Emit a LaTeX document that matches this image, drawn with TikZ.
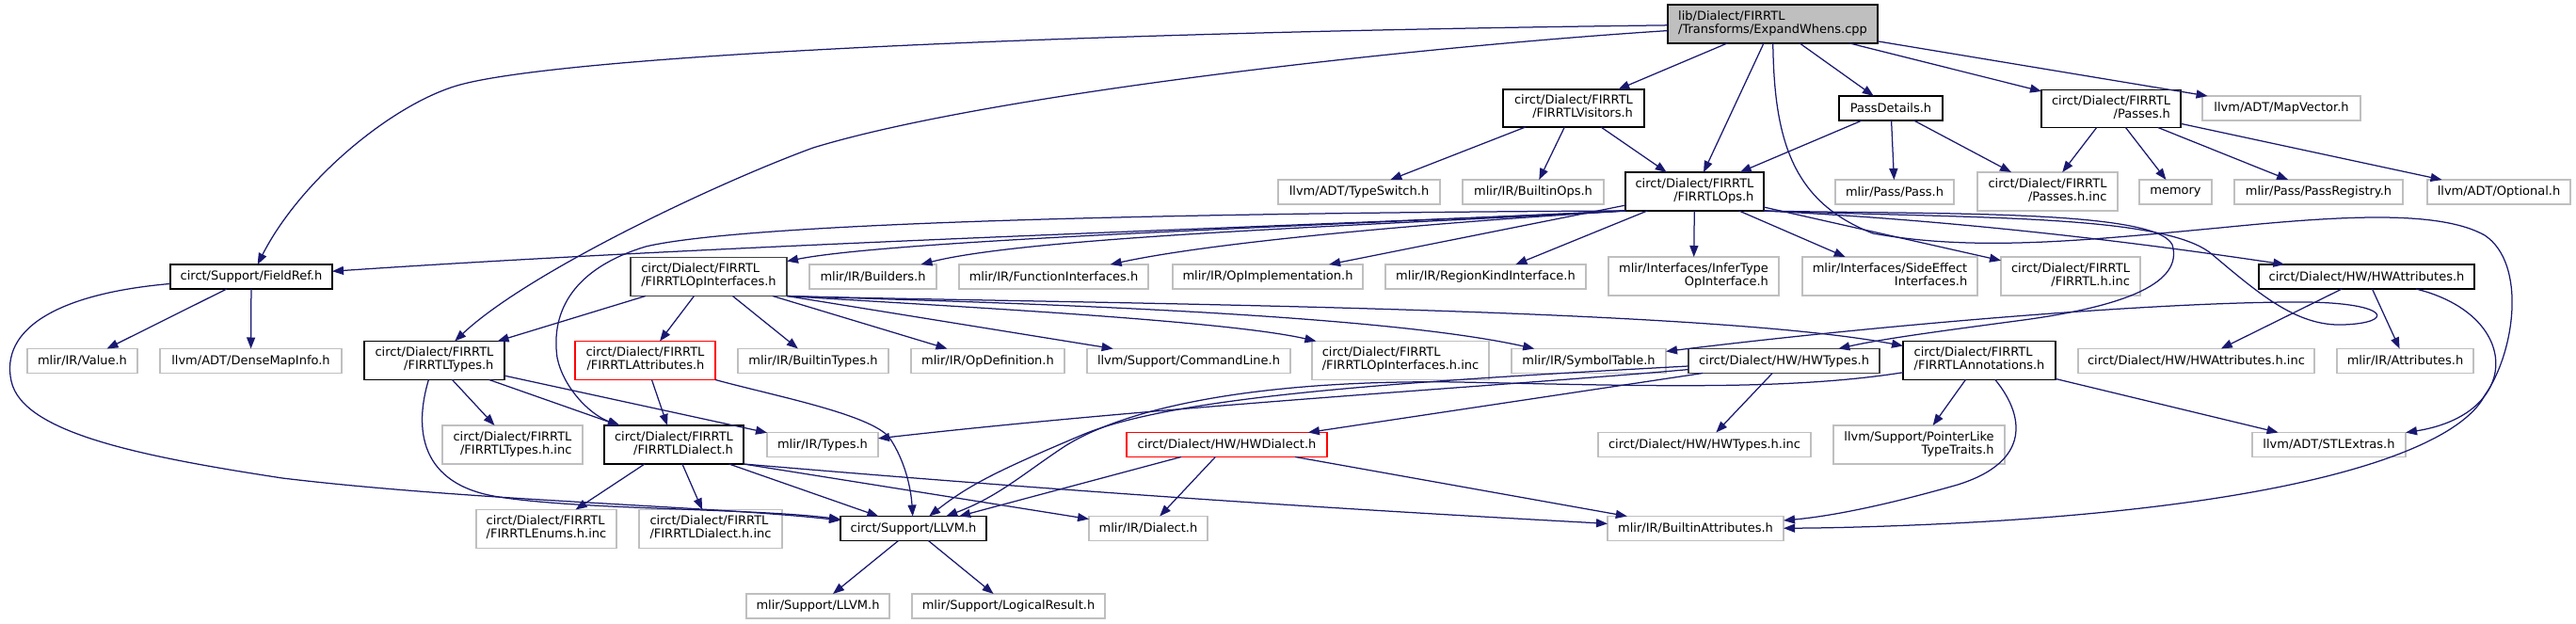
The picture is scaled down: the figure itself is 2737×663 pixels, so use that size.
\documentclass[tikz,border=0pt]{standalone}
\usepackage{fontspec}
\setmainfont{DejaVu Sans}
\usetikzlibrary{arrows.meta,calc}
\definecolor{edgecol}{HTML}{191970}
\definecolor{grayb}{HTML}{BFBFBF}
\definecolor{darkb}{HTML}{404040}
\newcommand\twol[2]{\begin{tabular}{@{}l@{}}#1\\\hfill#2\hfill\end{tabular}}
\begin{document}
\begin{tikzpicture}[x=1pt,y=-1pt,
  every node/.style={font=\fontsize{13}{14}\selectfont, inner sep=0pt, outer sep=0pt},
  nb/.style={draw=black, fill=white, line width=1.4pt},
  ng/.style={draw=grayb, fill=white, line width=1.4pt},
  nr/.style={draw=red, fill=white, line width=1.4pt},
  nk/.style={draw=darkb, fill=white, line width=1.6pt},
  sz/.style 2 args={minimum width=#1pt, minimum height=#2pt},
  ed/.style={draw=edgecol, line width=1.25pt, -{Triangle[length=12pt,width=9pt]}}]
\useasboundingbox (0,0) rectangle (2737,663);

% row 1
\node[nb, fill=grayb, sz={223}{41}] (root) at (1883.5,25.5) {\twol{lib/Dialect/FIRRTL}{/Transforms/ExpandWhens.cpp}};
% row 2
\node[nb, sz={150}{40}] (visitors) at (1672,115) {\twol{circt/Dialect/FIRRTL}{/FIRRTLVisitors.h}};
\node[nb, sz={110}{26}] (passdetails) at (2009,115) {PassDetails.h};
\node[nb, sz={148}{40}] (passes) at (2243,115.5) {\twol{circt/Dialect/FIRRTL}{/Passes.h}};
\node[ng, sz={168}{26}] (mapvector) at (2424,115) {llvm/ADT/MapVector.h};
% row 3
\node[ng, sz={172}{26}] (typeswitch) at (1444,204) {llvm/ADT/TypeSwitch.h};
\node[ng, sz={150}{26}] (builtinops) at (1629,204) {mlir/IR/BuiltinOps.h};
\node[nb, sz={147}{41}] (firrtlops) at (1800.5,203.5) {\twol{circt/Dialect/FIRRTL}{/FIRRTLOps.h}};
\node[ng, sz={126}{26}] (passh) at (2013,204) {mlir/Pass/Pass.h};
\node[ng, sz={149}{41}] (passesinc) at (2175.5,203.5) {\twol{circt/Dialect/FIRRTL}{/Passes.h.inc}};
\node[ng, sz={77}{26}] (memory) at (2311.5,204) {memory};
\node[ng, sz={179}{26}] (passregistry) at (2463.5,204) {mlir/Pass/PassRegistry.h};
\node[ng, sz={152}{26}] (optional) at (2655,204) {llvm/ADT/Optional.h};
% row 4
\node[nb, sz={172}{26}] (fieldref) at (267,294) {circt/Support/FieldRef.h};
\node[nk, sz={166}{41}] (opinterfaces) at (753,294) {\twol{circt/Dialect/FIRRTL}{/FIRRTLOpInterfaces.h}};
\node[ng, sz={135}{26}] (builders) at (927.5,294) {mlir/IR/Builders.h};
\node[ng, sz={201}{26}] (funcinterfaces) at (1119.5,294) {mlir/IR/FunctionInterfaces.h};
\node[ng, sz={202}{26}] (opimpl) at (1347,294) {mlir/IR/OpImplementation.h};
\node[ng, sz={213}{26}] (regionkind) at (1578.5,294) {mlir/IR/RegionKindInterface.h};
\node[ng, sz={181}{41}] (infertype) at (1799.5,293.5) {\twol{mlir/Interfaces/InferType}{OpInterface.h}};
\node[ng, sz={186}{41}] (sideeffect) at (2008,293.5) {\twol{mlir/Interfaces/SideEffect}{Interfaces.h}};
\node[ng, sz={148}{41}] (firrtlhinc) at (2200,293.5) {\twol{circt/Dialect/FIRRTL}{/FIRRTL.h.inc}};
\node[nb, sz={229}{26}] (hwattributes) at (2514.5,294) {circt/Dialect/HW/HWAttributes.h};
% row 5
\node[ng, sz={117}{26}] (valueh) at (87.5,383.5) {mlir/IR/Value.h};
\node[ng, sz={193}{26}] (densemapinfo) at (266.5,383.5) {llvm/ADT/DenseMapInfo.h};
\node[nb, sz={149}{41}] (firrtltypes) at (461.5,383) {\twol{circt/Dialect/FIRRTL}{/FIRRTLTypes.h}};
\node[nr, sz={149}{41}] (firrtlattributes) at (685.5,383) {\twol{circt/Dialect/FIRRTL}{/FIRRTLAttributes.h}};
\node[ng, sz={160}{26}] (builtintypes) at (864,383.5) {mlir/IR/BuiltinTypes.h};
\node[ng, sz={163}{26}] (opdefinition) at (1049.5,383.5) {mlir/IR/OpDefinition.h};
\node[ng, sz={216}{26}] (commandline) at (1263,383.5) {llvm/Support/CommandLine.h};
\node[ng, sz={188}{41}] (opinterfacesinc) at (1488,383) {\twol{circt/Dialect/FIRRTL}{/FIRRTLOpInterfaces.h.inc}};
\node[ng, sz={164}{26}] (symboltable) at (1688,383.5) {mlir/IR/SymbolTable.h};
\node[nk, sz={203}{26}] (hwtypes) at (1895.5,383.5) {circt/Dialect/HW/HWTypes.h};
\node[nb, sz={162}{41}] (annotations) at (2103,383) {\twol{circt/Dialect/FIRRTL}{/FIRRTLAnnotations.h}};
\node[ng, sz={251}{26}] (hwattributesinc) at (2333.5,383.5) {circt/Dialect/HW/HWAttributes.h.inc};
\node[ng, sz={145}{26}] (attributes) at (2555.5,383.5) {mlir/IR/Attributes.h};
% row 6
\node[ng, sz={149}{41}] (firrtltypesinc) at (544.5,472.5) {\twol{circt/Dialect/FIRRTL}{/FIRRTLTypes.h.inc}};
\node[nb, sz={148}{41}] (firrtldialect) at (716,472.5) {\twol{circt/Dialect/FIRRTL}{/FIRRTLDialect.h}};
\node[ng, sz={118}{26}] (typesh) at (874,472.5) {mlir/IR/Types.h};
\node[nr, sz={213}{26}] (hwdialect) at (1303.5,472.5) {circt/Dialect/HW/HWDialect.h};
\node[ng, sz={226}{26}] (hwtypesinc) at (1811,472.5) {circt/Dialect/HW/HWTypes.h.inc};
\node[ng, sz={182}{41}] (pointerlike) at (2039,472.5) {\twol{llvm/Support/PointerLike}{TypeTraits.h}};
\node[ng, sz={163}{26}] (stlextras) at (2474.5,472.5) {llvm/ADT/STLExtras.h};
% row 7
\node[ng, sz={149}{41}] (enumsinc) at (580.5,562) {\twol{circt/Dialect/FIRRTL}{/FIRRTLEnums.h.inc}};
\node[ng, sz={152}{41}] (dialectinc) at (755,562) {\twol{circt/Dialect/FIRRTL}{/FIRRTLDialect.h.inc}};
\node[nb, sz={155}{26}] (llvmh) at (970.5,561.5) {circt/Support/LLVM.h};
\node[ng, sz={126}{26}] (dialecth) at (1220,561.5) {mlir/IR/Dialect.h};
\node[ng, sz={187}{26}] (builtinattributes) at (1801.5,561.5) {mlir/IR/BuiltinAttributes.h};
% row 8
\node[ng, sz={152}{26}] (mlirllvm) at (869,644) {mlir/Support/LLVM.h};
\node[ng, sz={205}{26}] (logicalresult) at (1071.5,644) {mlir/Support/LogicalResult.h};

% ---------- edges ----------
% root
\draw[ed] (root) .. controls (1100,35) and (600,60) .. (489,90) .. controls (419,109) and (320,190) .. (fieldref);
\draw[ed] (root) .. controls (1500,50) and (1050,100) .. (864,157) .. controls (760,195) and (560,290) .. (firrtltypes);
\draw[ed] (root) -- (visitors);
\draw[ed] (root) -- (firrtlops);
\draw[ed] (root) -- (passdetails);
\draw[ed] (root) -- (passes);
\draw[ed] (root) -- (mapvector);
\draw[ed] (root) .. controls (1885,150) and (1905,215) .. (1990,248) .. controls (2100,268) and (2220,255) .. (2359,242) .. controls (2480,230) and (2590,222) .. (2640,250) .. controls (2685,280) and (2672,375) .. (2640,420) .. controls (2615,470) and (2480,530) .. (2128,553) .. controls (2050,558) and (1960,561) .. (builtinattributes);
% visitors
\draw[ed] (visitors) -- (typeswitch);
\draw[ed] (visitors) -- (builtinops);
\draw[ed] (visitors) -- (firrtlops);
% passdetails
\draw[ed] (passdetails) -- (firrtlops);
\draw[ed] (passdetails) -- (passh);
\draw[ed] (passdetails) -- (passesinc);
% passes
\draw[ed] (passes) -- (passesinc);
\draw[ed] (passes) -- (memory);
\draw[ed] (passes) -- (passregistry);
\draw[ed] (passes) -- (optional);
% firrtlops
\draw[ed] (firrtlops.south west) .. controls (1400,240) and (800,258) .. (fieldref);
\draw[ed] (firrtlops.south west) .. controls (1400,240) and (950,255) .. (opinterfaces);
\draw[ed] (firrtlops.south west) .. controls (1300,226) and (800,235) .. (686,262) .. controls (610,285) and (585,330) .. (592,380) .. controls (598,410) and (625,440) .. (firrtldialect);
\draw[ed] (firrtlops.south west) .. controls (1500,238) and (1100,250) .. (builders);
\draw[ed] (firrtlops.south west) .. controls (1550,235) and (1300,255) .. (funcinterfaces);
\draw[ed] (firrtlops) -- (opimpl);
\draw[ed] (firrtlops) -- (regionkind);
\draw[ed] (firrtlops) -- (infertype);
\draw[ed] (firrtlops) -- (sideeffect);
\draw[ed] (firrtlops) -- (firrtlhinc);
\draw[ed] (firrtlops.south east) .. controls (2100,235) and (2300,262) .. (hwattributes);
\draw[ed] (firrtlops.south east) .. controls (2050,228) and (2290,222) .. (2308,260) .. controls (2320,300) and (2260,325) .. (2150,340) .. controls (2060,352) and (2000,360) .. (hwtypes);
\draw[ed] (firrtlops.south east) .. controls (2100,232) and (2300,228) .. (2350,270) .. controls (2400,312) and (2440,347) .. (2490,345) .. controls (2545,343) and (2540,322) .. (2450,321) .. controls (2300,320) and (2000,345) .. (symboltable);
% opinterfaces
\draw[ed] (opinterfaces) -- (firrtltypes);
\draw[ed] (opinterfaces) -- (firrtlattributes);
\draw[ed] (opinterfaces) -- (builtintypes);
\draw[ed] (opinterfaces) -- (opdefinition);
\draw[ed] (opinterfaces.south east) -- (commandline);
\draw[ed] (opinterfaces.south east) .. controls (1000,325) and (1300,340) .. (opinterfacesinc);
\draw[ed] (opinterfaces.south east) .. controls (1000,320) and (1450,330) .. (symboltable);
\draw[ed] (opinterfaces.south east) .. controls (1100,322) and (1800,325) .. (annotations);
% firrtlattributes
\draw[ed] (firrtlattributes) -- (firrtldialect);
\draw[ed] (firrtlattributes) .. controls (820,420) and (925,440) .. (945,465) .. controls (962,490) and (968,520) .. (llvmh);
% firrtltypes
\draw[ed] (firrtltypes) -- (firrtltypesinc);
\draw[ed] (firrtltypes) -- (firrtldialect);
\draw[ed] (firrtltypes) -- (typesh);
\draw[ed] (firrtltypes) .. controls (440,455) and (445,515) .. (530,528) .. controls (620,542) and (800,540) .. (llvmh);
% fieldref
\draw[ed] (fieldref) -- (valueh);
\draw[ed] (fieldref) -- (densemapinfo);
\draw[ed] (fieldref) .. controls (60,312) and (0,350) .. (12,405) .. controls (24,460) and (150,485) .. (300,508) .. controls (500,532) and (760,538) .. (llvmh);
% firrtldialect
\draw[ed] (firrtldialect) -- (enumsinc);
\draw[ed] (firrtldialect) -- (dialectinc);
\draw[ed] (firrtldialect) -- (llvmh);
\draw[ed] (firrtldialect.south east) -- (dialecth);
\draw[ed] (firrtldialect.south east) .. controls (1200,528) and (1500,545) .. (builtinattributes);
% hwdialect
\draw[ed] (hwdialect) -- (llvmh);
\draw[ed] (hwdialect) -- (dialecth);
\draw[ed] (hwdialect) -- (builtinattributes);
% hwtypes
\draw[ed] (hwtypes) -- (hwtypesinc);
\draw[ed] (hwtypes) -- (hwdialect);
\draw[ed] (hwtypes) .. controls (1600,410) and (1250,430) .. (typesh);
\draw[ed] (hwtypes) .. controls (1500,405) and (1250,420) .. (1150,462) .. controls (1060,500) and (1030,515) .. (llvmh);
% annotations
\draw[ed] (annotations) -- (pointerlike);
\draw[ed] (annotations) .. controls (2150,440) and (2160,490) .. (2080,515) .. controls (2010,535) and (1950,548) .. (builtinattributes);
\draw[ed] (annotations) -- (stlextras);
\draw[ed] (annotations) .. controls (1900,415) and (1750,410) .. (1550,406) .. controls (1350,403) and (1200,430) .. (1130,475) .. controls (1085,505) and (1060,528) .. (llvmh);
% hwattributes
\draw[ed] (hwattributes) -- (hwattributesinc);
\draw[ed] (hwattributes) -- (attributes);
\draw[ed] (hwattributes) .. controls (2680,335) and (2680,440) .. (stlextras);
% llvmh
\draw[ed] (llvmh) -- (mlirllvm);
\draw[ed] (llvmh) -- (logicalresult);
\end{tikzpicture}
\end{document}
